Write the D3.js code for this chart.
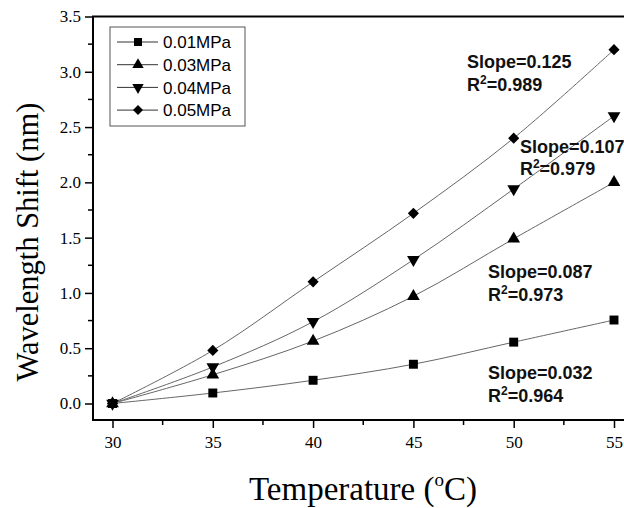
<!DOCTYPE html>
<html lang="en">
<head>
  <meta charset="UTF-8">
  <title>Wavelength Shift vs Temperature</title>
  <script src="https://d3js.org/d3.v7.min.js"></script>
  <style>
    body { margin: 0; padding: 0; background: #fff; }
    svg { display: block; }
    .tick text { font-family: "Liberation Serif", serif; font-size: 17px; fill: #000; }
    .ann { font-family: "Liberation Sans", Arial, sans-serif; font-weight: bold; font-size: 18px; fill: #111; }
    .leg { font-family: "Liberation Sans", Arial, sans-serif; font-size: 17px; fill: #000; }
  </style>
</head>
<body>
  <svg id="chart" width="624" height="508"></svg>
  <script>
    const temps = [30, 35, 40, 45, 50, 55];
    const seriesNames = ["0.01MPa", "0.03MPa", "0.04MPa", "0.05MPa"];
    const shift001 = [0, 0.095, 0.21, 0.355, 0.555, 0.755];
    const shift003 = [0, 0.26, 0.565, 0.97, 1.49, 2.0];
    const shift004 = [0, 0.33, 0.74, 1.3, 1.94, 2.6];
    const shift005 = [0, 0.48, 1.1, 1.72, 2.4, 3.2];
    const yTicks = [0, 0.5, 1.0, 1.5, 2.0, 2.5, 3.0, 3.5];
    const xTicks = [30, 35, 40, 45, 50, 55];
    const notes = [
      { slope: "Slope=0.125", r2: "0.989", t: 47.67, v: 3.03 },
      { slope: "Slope=0.107", r2: "0.979", t: 50.31, v: 2.27 },
      { slope: "Slope=0.087", r2: "0.973", t: 48.72, v: 1.135 },
      { slope: "Slope=0.032", r2: "0.964", t: 48.72, v: 0.22 }
    ];

    const series = [
      { name: seriesNames[0], values: shift001, symbol: d3.symbolSquare, size: 80, rot: 0 },
      { name: seriesNames[1], values: shift003, symbol: d3.symbolTriangle, size: 70, rot: 0 },
      { name: seriesNames[2], values: shift004, symbol: d3.symbolTriangle, size: 70, rot: 180 },
      { name: seriesNames[3], values: shift005, symbol: d3.symbolSquare, size: 62, rot: 45 }
    ];

    const svg = d3.select("#chart");
    const x = d3.scaleLinear().domain([30, 55]).range([112.5, 614]);
    const y = d3.scaleLinear().domain([0, 3.5]).range([403.5, 16.5]);
    const frameL = 93, frameT = 16.5, frameB = 420, frameR = 640;

    // minor ticks
    const yMinor = d3.range(0.25, 3.5, 0.5);
    const xMinor = d3.range(32.5, 56, 5);
    svg.append("g").selectAll("line").data(yMinor).join("line")
      .attr("x1", frameL - 5).attr("x2", frameL).attr("y1", d => y(d)).attr("y2", d => y(d))
      .attr("stroke", "#000").attr("stroke-width", 1.5);
    svg.append("g").selectAll("line").data(xMinor).join("line")
      .attr("y1", frameB).attr("y2", frameB + 5).attr("x1", d => x(d)).attr("x2", d => x(d))
      .attr("stroke", "#000").attr("stroke-width", 1.5);

    const yAxis = svg.append("g").attr("transform", `translate(${frameL},0)`)
      .call(d3.axisLeft(y).tickValues(yTicks).tickFormat(d3.format(".1f")).tickSize(8).tickPadding(4));
    const xAxis = svg.append("g").attr("transform", `translate(0,${frameB})`)
      .call(d3.axisBottom(x).tickValues(xTicks).tickSize(8).tickPadding(8));
    [yAxis, xAxis].forEach(a => {
      a.select(".domain").remove();
      a.selectAll(".tick line").attr("stroke-width", 1.5);
    });

    // lines
    const line = d3.line().x((d, i) => x(temps[i])).y(d => y(d)).curve(d3.curveCatmullRom.alpha(0.5));
    series.forEach(s => {
      svg.append("path").attr("d", line(s.values)).attr("fill", "none")
        .attr("stroke", "#666").attr("stroke-width", 1);
    });
    series.forEach(s => {
      svg.append("g").selectAll("path").data(s.values).join("path")
        .attr("d", d3.symbol().type(s.symbol).size(s.size))
        .attr("transform", (d, i) => `translate(${x(temps[i])},${y(d)}) rotate(${s.rot})`)
        .attr("fill", "#000");
    });

    // frame
    svg.append("path")
      .attr("d", `M${frameR},${frameT}H${frameL}V${frameB}H${frameR}`)
      .attr("fill", "none").attr("stroke", "#000").attr("stroke-width", 2);

    // legend
    const leg = svg.append("g").attr("transform", "translate(110,27)");
    leg.append("rect").attr("width", 135).attr("height", 99)
      .attr("fill", "#fff").attr("stroke", "#555").attr("stroke-width", 1);
    series.forEach((s, i) => {
      const g = leg.append("g").attr("transform", `translate(0,${15 + i * 22.7})`);
      g.append("line").attr("x1", 7).attr("x2", 48).attr("stroke", "#333").attr("stroke-width", 1);
      g.append("path").attr("d", d3.symbol().type(s.symbol).size(s.size * 0.8))
        .attr("transform", `translate(28,0) rotate(${s.rot})`).attr("fill", "#000");
      g.append("text").attr("class", "leg").attr("x", 53).attr("dy", "0.36em").text(s.name);
    });

    // annotations
    notes.forEach(n => {
      const t = svg.append("text").attr("class", "ann").attr("x", x(n.t)).attr("y", y(n.v));
      t.text(n.slope);
      const r = svg.append("text").attr("class", "ann").attr("x", x(n.t)).attr("y", y(n.v) + 22.5);
      r.append("tspan").text("R");
      r.append("tspan").attr("font-size", "12px").attr("dy", -7).text("2");
      r.append("tspan").attr("dy", 7).text("=" + n.r2);
    });

    // axis titles
    svg.append("text")
      .attr("transform", "translate(38,242) rotate(-90)")
      .attr("text-anchor", "middle")
      .attr("font-family", "Liberation Serif, serif").attr("font-size", 30.5)
      .text("Wavelength Shift (nm)");
    const xt = svg.append("text").attr("x", 363).attr("y", 500).attr("text-anchor", "middle")
      .attr("font-family", "Liberation Serif, serif").attr("font-size", 33);
    xt.append("tspan").text("Temperature (");
    xt.append("tspan").attr("font-size", 19).attr("dy", -14).text("o");
    xt.append("tspan").attr("dy", 14).text("C)");
  </script>
</body>
</html>
